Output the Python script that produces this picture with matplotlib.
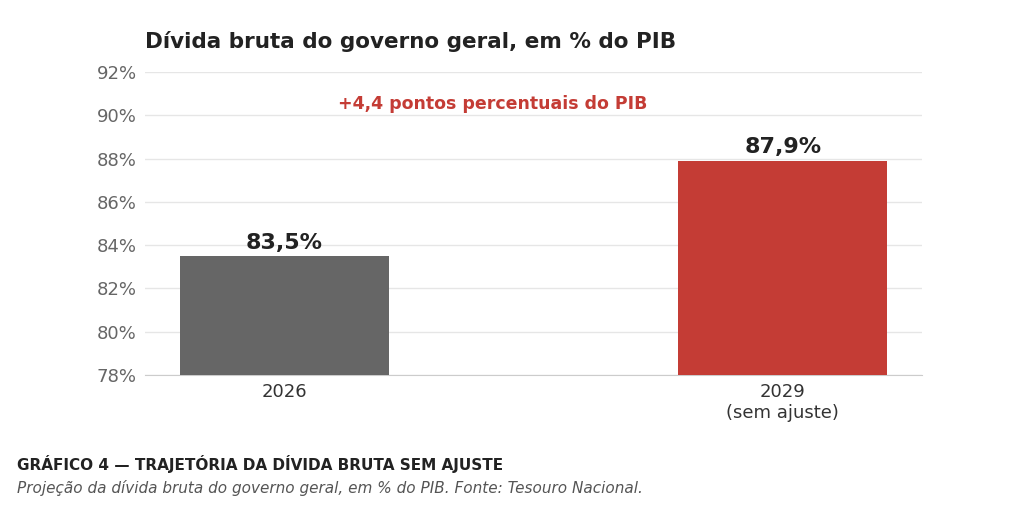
import matplotlib.pyplot as plt
import numpy as np

categories = ["2026", "2029\n(sem ajuste)"]
values = [83.5, 87.9]
value_labels = ["83,5%", "87,9%"]
bar_colors = ["#666666", "#c43c35"]
yticks = [78, 80, 82, 84, 86, 88, 90, 92]

fig = plt.figure(figsize=(10.24, 5.15), dpi=100)
ax = fig.add_axes([145/1024, 1 - 375/515, 777/1024, 303/515])

x = np.arange(len(categories))
ax.bar(x, values, width=0.419, color=bar_colors, zorder=3)
for xi, v, lab in zip(x, values, value_labels):
    ax.text(xi, v + 0.15, lab, ha="center", va="bottom", fontsize=16,
            fontweight="bold", color="#222222")

ax.set_ylim(78, 92)
ax.set_xlim(-0.279, 1.279)
ax.set_yticks(yticks)
ax.set_yticklabels([f"{t}%" for t in yticks], fontsize=13, color="#666666")
ax.set_xticks(x)
ax.set_xticklabels(categories, fontsize=13, color="#333333")
ax.tick_params(length=0, pad=6)
ax.grid(axis="y", color="#e6e6e6", linewidth=1, zorder=0)
for s in ["top", "right", "left"]:
    ax.spines[s].set_visible(False)
ax.spines["bottom"].set_color("#cccccc")

fig.text(145/1024, 1 - 42/515, "Dívida bruta do governo geral, em % do PIB",
         fontsize=15.5, fontweight="bold", color="#222222", va="center")
fig.text(493/1024, 1 - 104/515, "+4,4 pontos percentuais do PIB",
         fontsize=12.5, fontweight="bold", color="#c43c35", ha="center", va="center")
fig.text(17/1024, 1 - 464/515, "GRÁFICO 4 — TRAJETÓRIA DA DÍVIDA BRUTA SEM AJUSTE",
         fontsize=11, fontweight="bold", color="#222222", va="center")
fig.text(17/1024, 1 - 488/515,
         "Projeção da dívida bruta do governo geral, em % do PIB. Fonte: Tesouro Nacional.",
         fontsize=11, style="italic", color="#555555", va="center")

fig.savefig("out.png", dpi=100)
